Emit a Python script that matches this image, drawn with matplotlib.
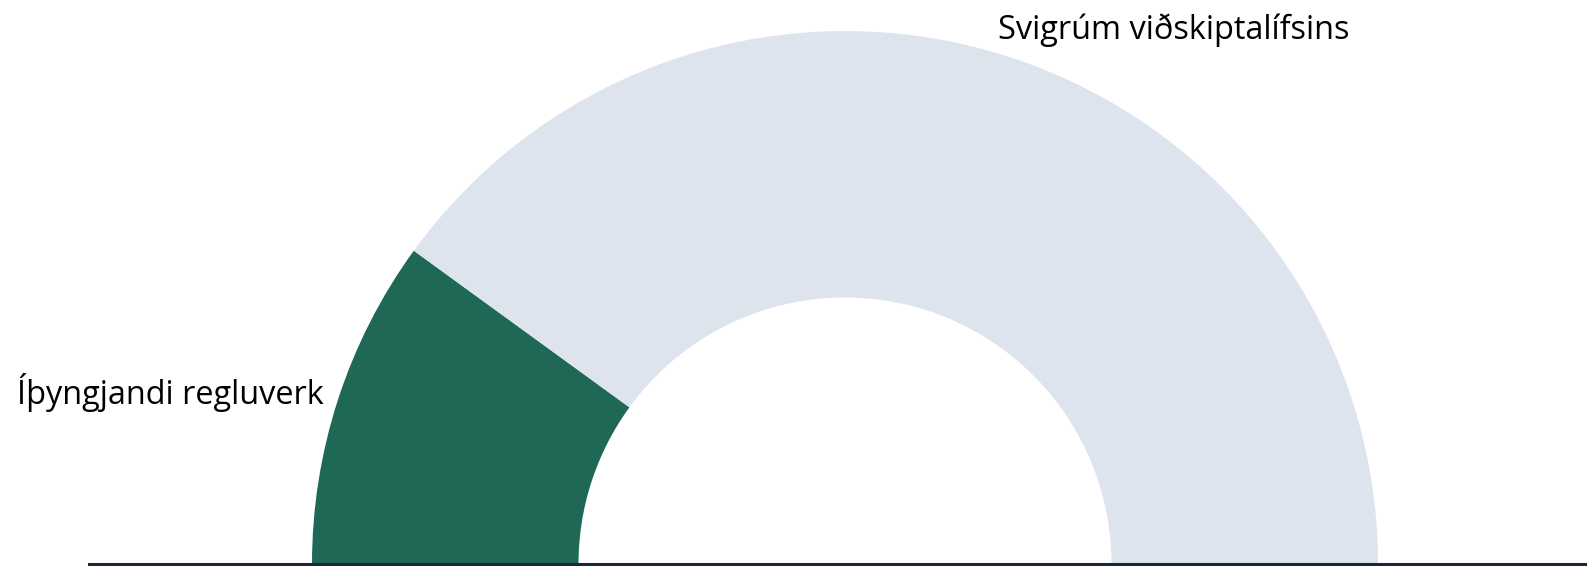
import numpy as np
import matplotlib
matplotlib.use("Agg")
import matplotlib.pyplot as plt

# gauge data (percent of the half circle)
labels = ["Íþyngjandi regluverk", "Svigrúm viðskiptalífsins"]
values = [20, 80]
colors = ["#1f6856", "#dee4ee"]

plt.rcParams['font.family'] = ['Open Sans', 'DejaVu Sans']

fig = plt.figure(figsize=(15.87, 5.66), dpi=100)
ax = fig.add_axes([0, 0, 1, 1])

# hidden lower half so the visible wedges form a half donut
vals = values + [sum(values)]
wedges, texts = ax.pie(vals, colors=colors + ["none"],
                       startangle=180, counterclock=False, radius=1.0,
                       wedgeprops=dict(width=0.5, edgecolor="none", linewidth=0))

# pixel-matched limits: centre at (845, 2) px, radius 533 px
W, H, cx, cy, R = 1587, 566, 845, 2, 533
ax.set_xlim(-cx / R, (W - cx) / R)
ax.set_ylim(-cy / R, (H - cy) / R)
ax.set_aspect("auto")
ax.axis("off")

# labels outside the wedges
ax.text(-0.978, 0.300, labels[0], ha="right", va="baseline", fontsize=23.4)
ax.text(0.287, 0.985, labels[1], ha="left", va="baseline", fontsize=23.4)

# base line
ax.axhline(0, xmin=89 / W, xmax=1, color="#1c2636", linewidth=2.2, zorder=5)

fig.savefig("out.png", dpi=100)
